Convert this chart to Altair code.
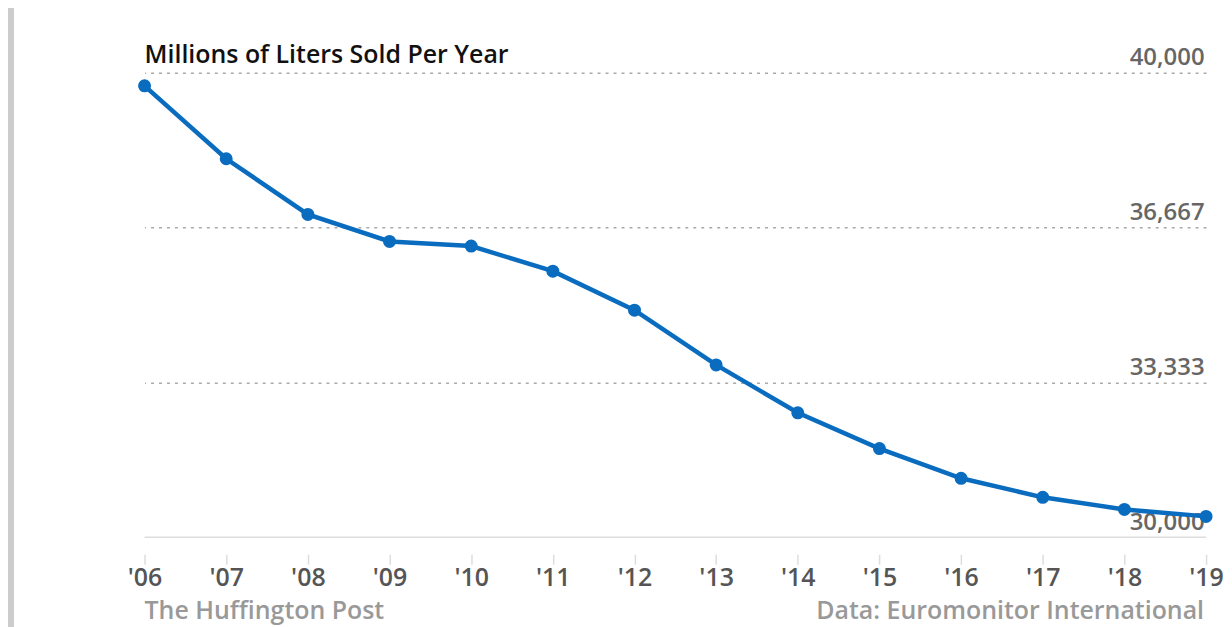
import altair as alt
import pandas as pd

years = ["'06", "'07", "'08", "'09", "'10", "'11", "'12", "'13", "'14", "'15", "'16", "'17", "'18", "'19"]
liters = [39720, 38150, 36950, 36370, 36270, 35730, 34890, 33710, 32680, 31910, 31270, 30860, 30600, 30450]
y_ticks = [30000, 33333.33, 36666.67, 40000]
baseline_value = [30000]

df = pd.DataFrame({"year": years, "liters": liters})

W, H = 1065, 466
FONT = "Open Sans"
BLUE = "#0a6cbf"
FS = 25

x_enc = alt.X("year:O", sort=years,
              scale=alt.Scale(type="point", padding=0),
              axis=alt.Axis(title=None, domain=False, offset=17, tickSize=10,
                            tickColor="#dddddd", tickWidth=1.5, labelAngle=0,
                            labelFontSize=FS, labelColor="#555555", labelFont=FONT,
                            labelFontWeight=600, labelPadding=1, grid=False))
y_enc = alt.Y("liters:Q", scale=alt.Scale(domain=[30000, 40000], nice=False, zero=False),
              axis=alt.Axis(title=None, orient="right", values=y_ticks, format=",.0f",
                            ticks=False, domain=False, labelAlign="right",
                            labelBaseline="bottom", labelPadding=-2, labelOffset=-3,
                            labelFontSize=24, labelColor="#666666", labelFont=FONT,
                            labelFontWeight=600,
                            grid=True, gridColor="#aaaaaa", gridDash=[3, 5], gridWidth=1.5,
                            gridOpacity={"condition": {"test": "datum.value < 30001", "value": 0}, "value": 1}))

base = alt.Chart(df)

baseline = alt.Chart(pd.DataFrame({"liters": baseline_value})).mark_rule(
    color="#dddddd", strokeWidth=1.5).encode(y=y_enc, x=alt.value(0), x2=alt.value(W))

line = base.mark_line(color=BLUE, strokeWidth=4.5).encode(x=x_enc, y=y_enc)
points = base.mark_circle(color=BLUE, size=170, opacity=1).encode(x=x_enc, y=y_enc)

side_bar = alt.Chart(pd.DataFrame({"a": [0]})).mark_rule(color="#cccccc", strokeWidth=6).encode(
    x=alt.value(-134), y=alt.value(-72), y2=alt.value(H + 95))

title = alt.Chart(pd.DataFrame({"t": ["Millions of Liters Sold Per Year"]})).mark_text(
    align="left", baseline="middle", fontSize=FS, font=FONT, fontWeight=600, color="#111111"
).encode(text="t:N", x=alt.value(0), y=alt.value(-18))

foot_left = alt.Chart(pd.DataFrame({"t": ["The Huffington Post"]})).mark_text(
    align="left", baseline="middle", fontSize=FS, font=FONT, fontWeight=600, color="#999999"
).encode(text="t:N", x=alt.value(0), y=alt.value(H + 74))

foot_right = alt.Chart(pd.DataFrame({"t": ["Data: Euromonitor International"]})).mark_text(
    align="right", baseline="middle", fontSize=FS, font=FONT, fontWeight=600, color="#999999"
).encode(text="t:N", x=alt.value(W - 2), y=alt.value(H + 74))

chart = alt.layer(side_bar, baseline, line, points, title, foot_left, foot_right).properties(
    width=W, height=H,
    autosize=alt.AutoSizeParams(type="none"),
    padding={"left": 137, "top": 64, "right": 18, "bottom": 89},
).configure(background="white").configure_view(stroke=None)

chart.save("out.html", embed_options={"renderer": "svg", "actions": False})
